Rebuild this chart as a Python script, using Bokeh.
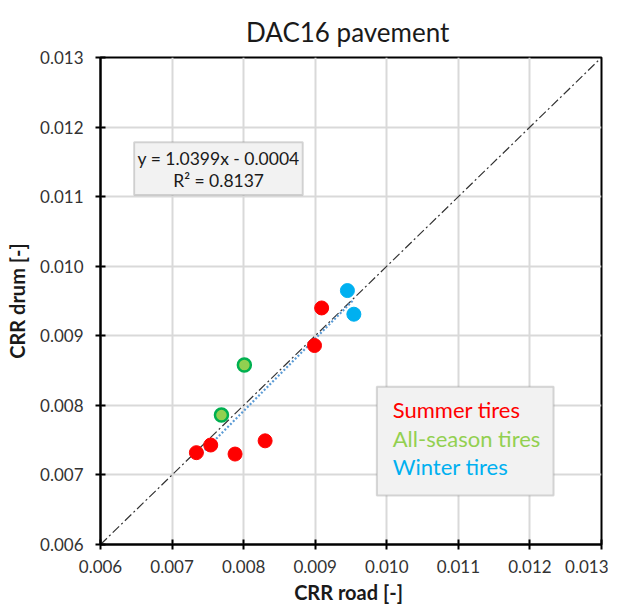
from bokeh.plotting import figure
from bokeh.models import Range1d, FixedTicker, NumeralTickFormatter, Label, BoxAnnotation
from bokeh.embed import file_html
from bokeh.resources import INLINE

FONT = "Lato"

# Data
summer_x = [0.00734, 0.00754, 0.00788, 0.00830, 0.00899, 0.00909]
summer_y = [0.00732, 0.00743, 0.00730, 0.00749, 0.00886, 0.00940]
allseason_x = [0.00769, 0.00801]
allseason_y = [0.00786, 0.00858]
winter_x = [0.00945, 0.00954]
winter_y = [0.00965, 0.00931]

ticks = [0.006, 0.007, 0.008, 0.009, 0.010, 0.011, 0.012, 0.013]
slope = 1.0399
intercept = -0.0004
r2 = 0.8137
title_text = "DAC16  pavement"
legend_labels = ["Summer tires", "All-season tires", "Winter tires"]
legend_colors = ["#ff0000", "#92d050", "#00b0f0"]

p = figure(width=608, height=608, output_backend="svg", toolbar_location=None,
           x_range=Range1d(0.006, 0.013), y_range=Range1d(0.006, 0.013),
           min_border_left=100, min_border_right=7, min_border_top=57, min_border_bottom=64,
           title=title_text)
p.title.align = "center"
p.title.text_font = FONT
p.title.text_font_size = "26px"
p.title.text_font_style = "normal"
p.title.text_color = "#1a1a1a"
p.title.standoff = 20

p.outline_line_color = "black"
p.outline_line_width = 2
p.background_fill_color = "white"
p.border_fill_color = "white"

for ax in (p.xaxis[0], p.yaxis[0]):
    ax.ticker = FixedTicker(ticks=ticks)
    ax.formatter = NumeralTickFormatter(format="0.000")
    ax.axis_line_color = "black"
    ax.axis_line_width = 2
    ax.major_tick_line_color = "black"
    ax.major_tick_line_width = 2
    ax.major_tick_in = 5
    ax.major_tick_out = 5
    ax.minor_tick_line_color = None
    ax.major_label_text_font = FONT
    ax.major_label_text_font_size = "17px"
    ax.major_label_text_color = "#333333"
    ax.axis_label_text_font = FONT
    ax.axis_label_text_font_size = "20px"
    ax.axis_label_text_font_style = "bold"
    ax.axis_label_text_color = "#1a1a1a"

p.xaxis.axis_label = "CRR road  [-]"
p.yaxis.axis_label = "CRR drum [-]"
p.xaxis.major_label_standoff = 10
p.yaxis.major_label_standoff = 12
p.xaxis.axis_label_standoff = 4
p.yaxis.axis_label_standoff = 8

p.xgrid.ticker = FixedTicker(ticks=ticks)
p.ygrid.ticker = FixedTicker(ticks=ticks)
p.grid.grid_line_color = "#d9d9d9"
p.grid.grid_line_width = 2

# identity line
p.line(x=[ticks[0], ticks[-1]], y=[ticks[0], ticks[-1]], line_color="#333333",
       line_width=1.2, line_dash="9 3 2 3")

# trend line over data span
all_x = summer_x + allseason_x + winter_x
tx = [min(all_x), max(all_x)]
ty = [slope * v + intercept for v in tx]
p.line(x=tx, y=ty, line_color="#5b9bd5", line_width=2.2, line_dash="2 2")

p.scatter(summer_x, summer_y, size=14, fill_color="#ff0000", line_color="#ff0000")
p.scatter(allseason_x, allseason_y, size=13, fill_color="#92d050", line_color="#00b050", line_width=2.5)
p.scatter(winter_x, winter_y, size=14, fill_color="#00b0f0", line_color="#00b0f0")

# equation box
p.add_layout(BoxAnnotation(left=0.00647, right=0.008826, bottom=0.011022, top=0.011782,
                           fill_color="#f2f2f2", fill_alpha=1, line_color="#7f7f7f", line_width=2))
p.add_layout(Label(x=0.00765, y=0.011552, text=f"y = {slope}x - {abs(intercept)}",
                   text_align="center", text_baseline="middle", text_font=FONT,
                   text_font_size="17.5px", text_color="#1a1a1a"))
p.add_layout(Label(x=0.00765, y=0.011237, text=f"R² = {r2}",
                   text_align="center", text_baseline="middle", text_font=FONT,
                   text_font_size="17.5px", text_color="#1a1a1a"))

# legend box
p.add_layout(BoxAnnotation(left=0.009861, right=0.01233, bottom=0.006703, top=0.008267,
                           fill_color="#f2f2f2", fill_alpha=1, line_color="#7f7f7f", line_width=2))
for lbl, col, yy in zip(legend_labels, legend_colors, [0.007937, 0.007521, 0.007119]):
    p.add_layout(Label(x=0.010083, y=yy, text=lbl, text_align="left", text_baseline="middle",
                       text_font=FONT, text_font_size="22px", text_color=col))

open("out.html", "w").write(file_html(p, INLINE))
